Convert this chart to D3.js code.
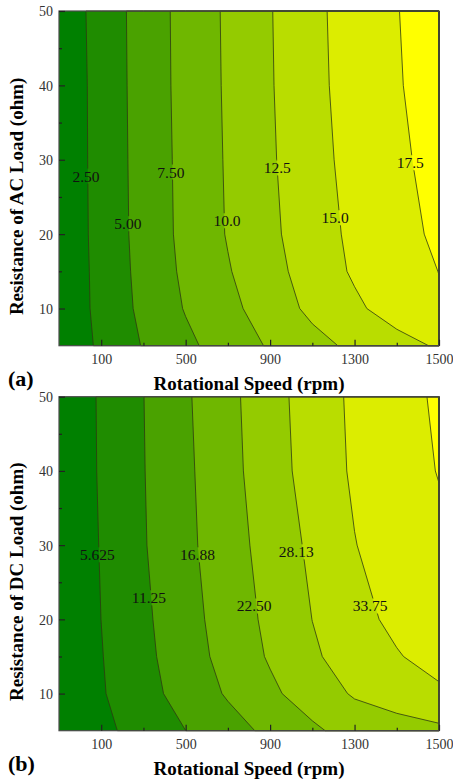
<!DOCTYPE html>
<html>
<head>
<meta charset="utf-8">
<script src="https://cdn.jsdelivr.net/npm/d3@7"></script>
<style>
body { margin: 0; background: #fff; }
text { font-family: "Liberation Serif", "Times New Roman", serif; }
</style>
</head>
<body>
<svg id="drawing_region"></svg>
<script>
// grid rows (ohm, bottom to top) and columns (slot on the speed axis)
const resistance = [5, 10, 15, 20, 30, 40, 50];
const speedCols = [0, 1, 2, 3, 4, 5, 6, 7, 8, 9];
const speedTickPos = [1, 3, 5, 7, 9];
const speedTickLabels = ["100", "500", "900", "1300", "1500"];
const speedMinorPos = [2, 4, 6, 8];
const ohmTicks = [10, 20, 30, 40, 50];
const ohmMinor = [15, 25, 35, 45];

// (a) AC voltage, one row per resistance value
const acLevels = [2.5, 5, 7.5, 10, 12.5, 15, 17.5];
const acValues = [
    [0.66, 2.92, 5.15, 6.96, 8.65, 10.25, 11.71, 13.02, 14.15, 15.28],
    [0.64, 3.17, 5.59, 7.65, 9.32, 11.21, 13.05, 14.56, 16.07, 17.20],
    [0.61, 3.24, 5.77, 7.97, 9.83, 11.68, 13.59, 15.31, 16.42, 17.53],
    [0.64, 3.32, 5.89, 8.16, 10.15, 11.99, 13.89, 15.51, 16.72, 17.92],
    [0.66, 3.37, 5.95, 8.22, 10.24, 12.19, 14.19, 15.76, 17.03, 18.31],
    [0.67, 3.40, 6.01, 8.30, 10.32, 12.31, 14.37, 15.94, 17.29, 18.65],
    [0.80, 3.46, 6.04, 8.34, 10.37, 12.37, 14.45, 16.02, 17.41, 18.80]
];
const acLabels = [
    {text: "2.50", x: 0.64, y: 27.8},
    {text: "5.00", x: 1.63, y: 21.4},
    {text: "7.50", x: 2.65, y: 28.35},
    {text: "10.0", x: 3.98, y: 21.8},
    {text: "12.5", x: 5.17, y: 28.9},
    {text: "15.0", x: 6.54, y: 22.2},
    {text: "17.5", x: 8.32, y: 29.6}
];

// (b) DC voltage
const dcLevels = [5.625, 11.25, 16.875, 22.5, 28.125, 33.75, 39.375];
const dcValues = [
    [0.83, 4.30, 7.77, 11.24, 14.70, 18.12, 21.48, 24.84, 25.90, 27.00],
    [1.01, 5.15, 9.30, 13.40, 17.44, 21.38, 25.31, 28.68, 30.65, 32.63],
    [0.96, 5.40, 9.85, 14.34, 18.77, 23.08, 27.40, 30.48, 33.30, 36.13],
    [1.08, 5.65, 10.21, 14.85, 19.35, 23.76, 28.17, 31.73, 35.20, 37.00],
    [0.97, 5.92, 10.86, 15.57, 20.13, 24.68, 29.21, 33.58, 36.40, 38.20],
    [1.23, 6.15, 11.06, 15.82, 20.70, 25.60, 30.43, 34.50, 37.00, 39.60],
    [1.29, 6.23, 11.18, 16.16, 21.02, 25.96, 30.81, 34.77, 37.46, 40.14]
];
const dcLabels = [
    {text: "5.625", x: 0.91, y: 28.7},
    {text: "11.25", x: 2.13, y: 22.9},
    {text: "16.88", x: 3.28, y: 28.7},
    {text: "22.50", x: 4.62, y: 21.8},
    {text: "28.13", x: 5.62, y: 29.1},
    {text: "33.75", x: 7.37, y: 21.8}
];

const bandColors = ["#008000", "#1f8c00", "#4aa200", "#6fb700", "#94cb00", "#b9dd00", "#dced00", "#ffff00"];

const svg = d3.select('#drawing_region')
    .attr('width', 453)
    .attr('height', 782);

class ContourChart {

    constructor( config, values, levels, labels ) {
        this.config = config;
        this.values = values;
        this.levels = levels;
        this.labels = labels;
        this.init();
    }

    init() {
        let self = this;

        self.chart = svg.append('g')
            .attr('transform', `translate(${self.config.left}, ${self.config.top})`);

        self.xscale = d3.scaleLinear()
            .domain([speedCols[0], speedCols[speedCols.length - 1]])
            .range([0, self.config.width]);

        self.yscale = d3.scaleLinear()
            .domain([resistance[0], resistance[resistance.length - 1]])
            .range([self.config.height, 0]);

        self.xaxis = d3.axisBottom(self.xscale)
            .tickValues(speedTickPos)
            .tickFormat((d, i) => speedTickLabels[i])
            .tickSize(-6)
            .tickPadding(8);

        self.xminor = d3.axisBottom(self.xscale)
            .tickValues(speedMinorPos)
            .tickFormat('')
            .tickSize(-3);

        self.yaxis = d3.axisLeft(self.yscale)
            .tickValues(ohmTicks)
            .tickSize(-6)
            .tickPadding(6);

        self.yminor = d3.axisLeft(self.yscale)
            .tickValues(ohmMinor)
            .tickFormat('')
            .tickSize(-3);
    }

    render() {
        let self = this;
        const nx = speedCols.length, ny = resistance.length;

        // contour grid coords -> data coords (values sit at cell centres)
        const gridCoord = (arr, g) => {
            const t = Math.max(0, Math.min(arr.length - 1, g - 0.5));
            const i = Math.min(Math.floor(t), arr.length - 2);
            return arr[i] + (t - i) * (arr[i + 1] - arr[i]);
        };
        const proj = d3.geoTransform({
            point: function(gx, gy) {
                this.stream.point(self.xscale(gridCoord(speedCols, gx)), self.yscale(gridCoord(resistance, gy)));
            }
        });
        const path = d3.geoPath(proj);

        const contours = d3.contours()
            .size([nx, ny])
            .thresholds(self.levels)(self.values.flat());

        self.chart.append('rect')
            .attr('width', self.config.width)
            .attr('height', self.config.height)
            .attr('fill', bandColors[0]);

        self.chart.append('g')
            .selectAll('path')
            .data(contours)
            .join('path')
            .attr('d', path)
            .attr('fill', (d, i) => bandColors[i + 1]);

        // labels first, so their boxes can cut the lines
        const labelG = self.chart.append('g');
        const texts = labelG.selectAll('text')
            .data(self.labels)
            .join('text')
            .attr('x', d => self.xscale(d.x))
            .attr('y', d => self.yscale(d.y))
            .attr('text-anchor', 'middle')
            .attr('dominant-baseline', 'central')
            .attr('font-size', 15.5)
            .attr('fill', '#111')
            .text(d => d.text);

        const mask = self.chart.append('mask')
            .attr('id', self.config.id + '_mask')
            .attr('maskUnits', 'userSpaceOnUse')
            .attr('x', -10).attr('y', -10)
            .attr('width', self.config.width + 20)
            .attr('height', self.config.height + 20);
        mask.append('rect')
            .attr('x', -10).attr('y', -10)
            .attr('width', self.config.width + 20)
            .attr('height', self.config.height + 20)
            .attr('fill', 'white');
        texts.each(function() {
            const b = this.getBBox();
            mask.append('rect')
                .attr('x', b.x - 1).attr('y', b.y + 1)
                .attr('width', b.width + 2).attr('height', b.height - 2)
                .attr('fill', 'black');
        });

        self.chart.insert('g', () => labelG.node())
            .attr('mask', `url(#${self.config.id}_mask)`)
            .selectAll('path')
            .data(contours)
            .join('path')
            .attr('d', path)
            .attr('fill', 'none')
            .attr('stroke', '#2e3a12')
            .attr('stroke-width', 0.8);

        // frame
        self.chart.append('rect')
            .attr('width', self.config.width)
            .attr('height', self.config.height)
            .attr('fill', 'none')
            .attr('stroke', '#4a4a4a')
            .attr('stroke-width', 1.2);

        const xg = self.chart.append('g')
            .attr('transform', `translate(0, ${self.config.height})`)
            .call(self.xaxis);
        self.chart.append('g')
            .attr('transform', `translate(0, ${self.config.height})`)
            .call(self.xminor);
        const yg = self.chart.append('g').call(self.yaxis);
        self.chart.append('g').call(self.yminor);

        self.chart.selectAll('.domain').remove();
        self.chart.selectAll('.tick line').attr('stroke', '#222').attr('stroke-width', 1.2);
        xg.selectAll('text').attr('font-size', 14).attr('fill', '#333')
            .attr('font-family', '"Liberation Serif", serif');
        yg.selectAll('text').attr('font-size', 14).attr('fill', '#333')
            .attr('font-family', '"Liberation Serif", serif')
            .attr('dy', '0.35em');

        self.chart.append('text')
            .attr('x', self.config.width / 2)
            .attr('y', self.config.height + 44)
            .attr('text-anchor', 'middle')
            .attr('font-size', 19)
            .attr('font-weight', 'bold')
            .text('Rotational Speed (rpm)');

        self.chart.append('text')
            .attr('transform', `translate(${-36}, ${self.config.height / 2 + 18}) rotate(-90)`)
            .attr('text-anchor', 'middle')
            .attr('font-size', 19)
            .attr('font-weight', 'bold')
            .text(self.config.ytitle);

        self.chart.append('text')
            .attr('x', -51)
            .attr('y', self.config.height + 40)
            .attr('font-size', 22)
            .attr('font-weight', 'bold')
            .text(self.config.tag);
    }
}

const chartA = new ContourChart({
    id: 'a', left: 59, top: 11, width: 380, height: 334.7,
    ytitle: 'Resistance of AC Load (ohm)', tag: '(a)'
}, acValues, acLevels, acLabels);
chartA.render();

const chartB = new ContourChart({
    id: 'b', left: 59, top: 396.7, width: 380, height: 334,
    ytitle: 'Resistance of DC Load (ohm)', tag: '(b)'
}, dcValues, dcLevels, dcLabels);
chartB.render();
</script>
</body>
</html>
